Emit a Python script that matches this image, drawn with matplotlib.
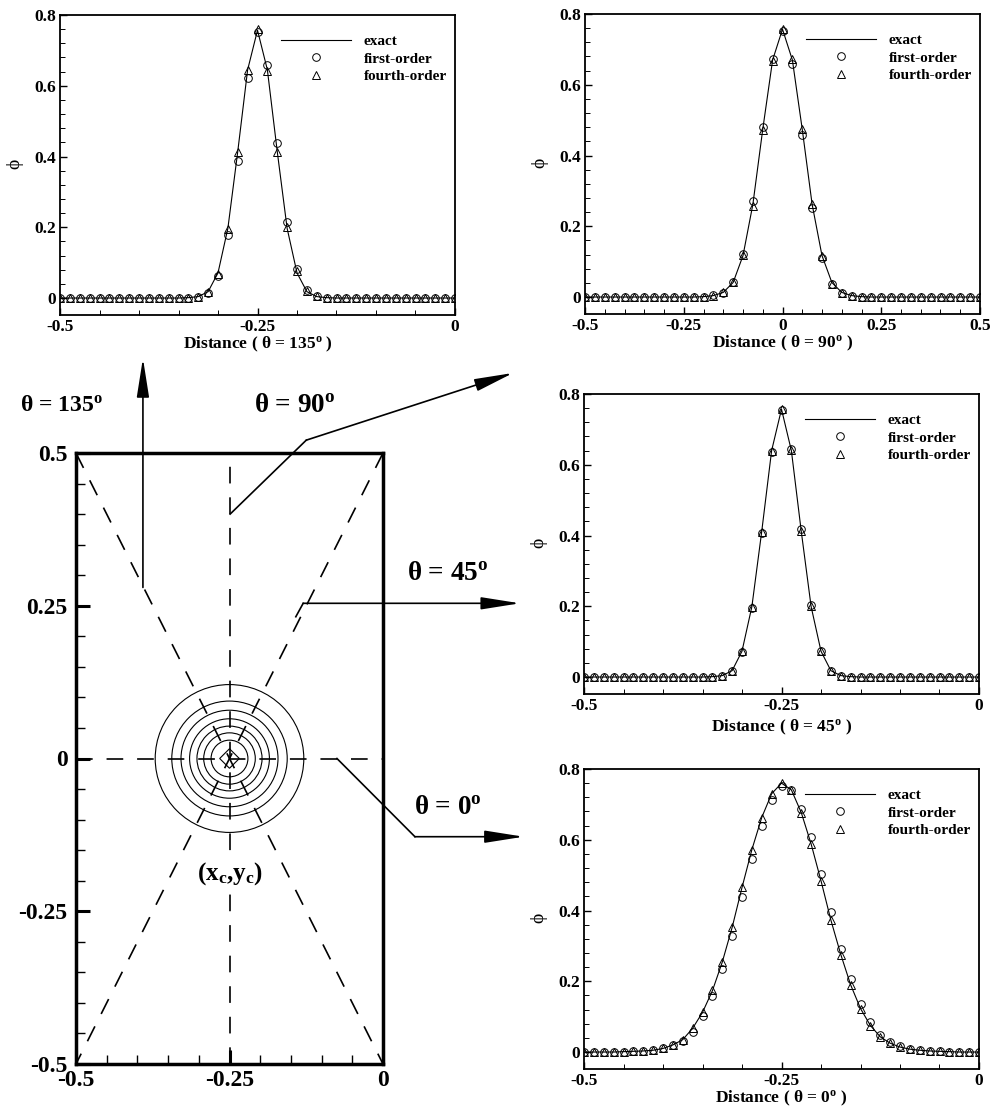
import numpy as np
import matplotlib
matplotlib.use("Agg")
import matplotlib.pyplot as plt
from matplotlib.patches import Circle, RegularPolygon
from matplotlib.ticker import FixedLocator

plt.rcParams['font.family'] = ['Liberation Serif', 'DejaVu Serif']
plt.rcParams['font.weight'] = 'bold'
plt.rcParams['mathtext.fontset'] = 'custom'
plt.rcParams['mathtext.rm'] = 'Liberation Serif:bold'
plt.rcParams['mathtext.it'] = 'Liberation Serif:italic:bold'
plt.rcParams['mathtext.bf'] = 'Liberation Serif:bold'
plt.rcParams['lines.scale_dashes'] = False

# ---------------------------------------------------------------- data
# sampling positions along each cut
dist_short = np.linspace(-0.5, 0.0, 41)   # theta = 0, 45, 135
dist_long = np.linspace(-0.5, 0.5, 41)    # theta = 90

# theta = 135 deg
exact_135 = [0.000, 0.000, 0.000, 0.000, 0.000, 0.000, 0.000, 0.000, 0.000, 0.000,
             0.000, 0.000, 0.000, 0.001, 0.004, 0.018, 0.071, 0.197, 0.414, 0.645,
             0.757, 0.645, 0.414, 0.197, 0.071, 0.018, 0.004, 0.001, 0.000, 0.000,
             0.000, 0.000, 0.000, 0.000, 0.000, 0.000, 0.000, 0.000, 0.000, 0.000, 0.000]
first_135 = [0.000, 0.000, 0.000, 0.000, 0.000, 0.000, 0.000, 0.000, 0.000, 0.000,
             0.000, 0.000, 0.000, 0.001, 0.003, 0.014, 0.063, 0.179, 0.386, 0.621,
             0.753, 0.659, 0.438, 0.216, 0.082, 0.022, 0.007, 0.001, 0.000, 0.000,
             0.000, 0.000, 0.000, 0.000, 0.000, 0.000, 0.000, 0.000, 0.000, 0.000, 0.000]
fourth_135 = [0.000, 0.000, 0.000, 0.000, 0.000, 0.000, 0.000, 0.000, 0.000, 0.000,
              0.000, 0.000, 0.000, 0.001, 0.004, 0.017, 0.069, 0.195, 0.414, 0.645,
              0.760, 0.643, 0.414, 0.200, 0.075, 0.021, 0.005, 0.001, 0.000, 0.000,
              0.000, 0.000, 0.000, 0.000, 0.000, 0.000, 0.000, 0.000, 0.000, 0.000, 0.000]

# theta = 90 deg
exact_90 = [0.000, 0.000, 0.000, 0.000, 0.000, 0.000, 0.000, 0.000, 0.000, 0.000,
            0.000, 0.000, 0.001, 0.004, 0.013, 0.041, 0.117, 0.262, 0.474, 0.670,
            0.757, 0.670, 0.474, 0.262, 0.117, 0.041, 0.013, 0.004, 0.001, 0.000,
            0.000, 0.000, 0.000, 0.000, 0.000, 0.000, 0.000, 0.000, 0.000, 0.000, 0.000]
first_90 = [0.000, 0.000, 0.000, 0.000, 0.000, 0.000, 0.000, 0.000, 0.000, 0.000,
            0.000, 0.000, 0.001, 0.005, 0.012, 0.042, 0.123, 0.272, 0.481, 0.672,
            0.753, 0.658, 0.459, 0.253, 0.111, 0.036, 0.011, 0.004, 0.001, 0.000,
            0.000, 0.000, 0.000, 0.000, 0.000, 0.000, 0.000, 0.000, 0.000, 0.000, 0.000]
fourth_90 = [0.000, 0.000, 0.000, 0.000, 0.000, 0.000, 0.000, 0.000, 0.000, 0.000,
             0.000, 0.000, 0.001, 0.004, 0.013, 0.042, 0.118, 0.258, 0.472, 0.668,
             0.757, 0.672, 0.476, 0.262, 0.115, 0.038, 0.012, 0.004, 0.001, 0.000,
             0.000, 0.000, 0.000, 0.000, 0.000, 0.000, 0.000, 0.000, 0.000, 0.000, 0.000]

# theta = 45 deg
exact_45 = [0.000, 0.000, 0.000, 0.000, 0.000, 0.000, 0.000, 0.000, 0.000, 0.000,
            0.000, 0.000, 0.000, 0.001, 0.004, 0.018, 0.073, 0.199, 0.412, 0.640,
            0.757, 0.640, 0.412, 0.199, 0.073, 0.018, 0.004, 0.001, 0.000, 0.000,
            0.000, 0.000, 0.000, 0.000, 0.000, 0.000, 0.000, 0.000, 0.000, 0.000, 0.000]
first_45 = [0.000, 0.000, 0.000, 0.000, 0.000, 0.000, 0.000, 0.000, 0.000, 0.000,
            0.000, 0.000, 0.000, 0.001, 0.004, 0.017, 0.071, 0.195, 0.408, 0.636,
            0.755, 0.645, 0.417, 0.203, 0.074, 0.017, 0.004, 0.001, 0.000, 0.000,
            0.000, 0.000, 0.000, 0.000, 0.000, 0.000, 0.000, 0.000, 0.000, 0.000, 0.000]
fourth_45 = [0.000, 0.000, 0.000, 0.000, 0.000, 0.000, 0.000, 0.000, 0.000, 0.000,
             0.000, 0.000, 0.000, 0.001, 0.004, 0.018, 0.073, 0.198, 0.411, 0.640,
             0.757, 0.643, 0.414, 0.201, 0.073, 0.018, 0.004, 0.001, 0.000, 0.000,
             0.000, 0.000, 0.000, 0.000, 0.000, 0.000, 0.000, 0.000, 0.000, 0.000, 0.000]

# theta = 0 deg
exact_0 = [0.000, 0.000, 0.000, 0.000, 0.001, 0.002, 0.003, 0.005, 0.010, 0.020,
           0.035, 0.067, 0.112, 0.173, 0.254, 0.352, 0.465, 0.572, 0.663, 0.730,
           0.760, 0.741, 0.677, 0.588, 0.484, 0.373, 0.276, 0.190, 0.123, 0.075,
           0.043, 0.025, 0.014, 0.008, 0.005, 0.003, 0.002, 0.001, 0.000, 0.000, 0.000]
first_0 = [0.000, 0.000, 0.000, 0.000, 0.001, 0.002, 0.003, 0.005, 0.010, 0.019,
           0.032, 0.058, 0.101, 0.157, 0.235, 0.327, 0.437, 0.546, 0.640, 0.712,
           0.753, 0.740, 0.687, 0.607, 0.504, 0.395, 0.291, 0.205, 0.136, 0.084,
           0.048, 0.028, 0.016, 0.008, 0.005, 0.003, 0.002, 0.001, 0.000, 0.000, 0.000]
fourth_0 = [0.000, 0.000, 0.000, 0.000, 0.001, 0.002, 0.003, 0.005, 0.010, 0.020,
            0.035, 0.068, 0.113, 0.174, 0.254, 0.352, 0.466, 0.572, 0.662, 0.730,
            0.761, 0.740, 0.676, 0.588, 0.484, 0.372, 0.275, 0.189, 0.122, 0.074,
            0.043, 0.025, 0.014, 0.008, 0.005, 0.003, 0.002, 0.001, 0.000, 0.000, 0.000]

series_names = ['exact', 'first-order', 'fourth-order']

phi_ticks = [0.0, 0.2, 0.4, 0.6, 0.8]
phi_ticklabels = ['0', '0.2', '0.4', '0.6', '0.8']
short_ticks = [-0.5, -0.25, 0.0]
short_ticklabels = ['-0.5', '-0.25', '0']
long_ticks = [-0.5, -0.25, 0.0, 0.25, 0.5]
long_ticklabels = ['-0.5', '-0.25', '0', '0.25', '0.5']
dom_yticks = [-0.5, -0.25, 0.0, 0.25, 0.5]
dom_yticklabels = ['-0.5', '-0.25', '0', '0.25', '0.5']

# computational domain, hill centre and contour rings of the initial hill
dom_x = (-0.5, 0.0)
dom_y = (-0.5, 0.5)
xc, yc = -0.25, 0.0
ring_radii = [0.121, 0.094, 0.079, 0.065, 0.053, 0.042, 0.030]
core_radius = 0.016

# pointer lines from each sampling cut to its profile panel (domain units)
pointer_135 = [(-0.391, 0.280), (-0.391, 0.655)]
pointer_90 = [(-0.249, 0.400), (-0.125, 0.521), (0.212, 0.631)]
pointer_45 = [(-0.142, 0.232), (-0.130, 0.254), (0.223, 0.254)]
pointer_0 = [(-0.075, 0.000), (0.052, -0.128), (0.229, -0.128)]

# ---------------------------------------------------------------- figure
W, H = 990, 1108
fig = plt.figure(figsize=(W / 100, H / 100), dpi=100)


def px_rect(left, top, right, bottom):
    return [left / W, 1 - bottom / H, (right - left) / W, (bottom - top) / H]


def profile_panel(rect, x, exact, first, fourth, xlim, xticks, xticklabels,
                  xlabel, xlabel_y):
    ax = fig.add_axes(rect)
    ax.plot(x, exact, color='k', lw=0.8, label=series_names[0])
    ax.plot(x, first, ls='none', marker='o', ms=5.5, mfc='none', mec='k',
            mew=0.7, label=series_names[1])
    ax.plot(x, fourth, ls='none', marker='^', ms=5.8, mfc='none', mec='k',
            mew=0.7, label=series_names[2])
    ax.set_xlim(*xlim)
    ax.set_ylim(-0.048, 0.8)
    ax.xaxis.set_major_locator(FixedLocator(xticks))
    ax.set_xticklabels(xticklabels)
    ax.xaxis.set_minor_locator(FixedLocator(np.arange(xlim[0], xlim[1] + 1e-9, 0.05)))
    ax.yaxis.set_major_locator(FixedLocator(phi_ticks))
    ax.set_yticklabels(phi_ticklabels)
    ax.yaxis.set_minor_locator(FixedLocator(np.arange(0.0, 0.8001, 0.04)))
    ax.tick_params(which='both', direction='in', top=False, right=False)
    ax.tick_params(which='major', length=5, width=1.0, labelsize=12.5, pad=3)
    ax.tick_params(which='minor', length=3.5, width=0.7)
    for lab in ax.get_xticklabels() + ax.get_yticklabels():
        lab.set_fontweight('bold')
    for sp in ax.spines.values():
        sp.set_linewidth(1.3)
    ax.set_xlabel(xlabel, fontsize=12.5, fontweight='bold')
    ax.xaxis.label.set_va('center')
    ax.xaxis.set_label_coords(0.5, xlabel_y)
    ax.set_ylabel('ϕ', fontsize=14, fontweight='normal')
    ax.yaxis.label.set_va('center')
    ax.yaxis.set_label_coords(-0.115, 0.505)
    ax.legend(loc='upper left', bbox_to_anchor=(0.56, 0.935), frameon=False,
              fontsize=11, handlelength=4.6, handletextpad=0.8,
              labelspacing=0.25, borderpad=0, borderaxespad=0, numpoints=1)
    return ax


profile_panel(px_rect(60, 15, 455, 315), dist_short, exact_135, first_135, fourth_135,
              (-0.5, 0.0), short_ticks, short_ticklabels,
              r'Distance ( θ = 135$^{\mathrm{o}}$ )', -0.097)
profile_panel(px_rect(585, 14, 980, 314), dist_long, exact_90, first_90, fourth_90,
              (-0.5, 0.5), long_ticks, long_ticklabels,
              r'Distance ( θ = 90$^{\mathrm{o}}$ )', -0.097)
profile_panel(px_rect(584, 394, 979, 694), dist_short, exact_45, first_45, fourth_45,
              (-0.5, 0.0), short_ticks, short_ticklabels,
              r'Distance ( θ = 45$^{\mathrm{o}}$ )', -0.112)
profile_panel(px_rect(584, 769, 979, 1069), dist_short, exact_0, first_0, fourth_0,
              (-0.5, 0.0), short_ticks, short_ticklabels,
              r'Distance ( θ = 0$^{\mathrm{o}}$ )', -0.097)

# ---------------------------------------------------------------- domain sketch
axd = fig.add_axes(px_rect(76, 453, 383, 1064))
axd.set_xlim(*dom_x)
axd.set_ylim(*dom_y)
dash = (0, (12, 10))
cut_kw = dict(color='k', lw=1.2, ls=dash)
axd.plot([xc, xc], [dom_y[0], dom_y[1]], **cut_kw)                 # 90 deg
axd.plot([dom_x[0], dom_x[1]], [yc, yc], **cut_kw)                 # 0 deg
axd.plot([dom_x[0], dom_x[1]], [dom_y[1], dom_y[0]], **cut_kw)     # 135 deg
axd.plot([dom_x[1], dom_x[0]], [dom_y[1], dom_y[0]], **cut_kw)     # 45 deg

for r in ring_radii:
    axd.add_patch(Circle((xc, yc), r, fill=False, ec='k', lw=0.8))
axd.add_patch(RegularPolygon((xc, yc), 4, radius=core_radius, orientation=0,
                             fill=False, ec='k', lw=0.8))

axd.text(xc, -0.189, r'(x$_{\mathrm{c}}$,y$_{\mathrm{c}}$)', fontsize=18,
         fontweight='bold', ha='center', va='center',
         bbox=dict(fc='white', ec='none', pad=1))

arrow_style = '-|>,head_length=2.4,head_width=0.38'
for pts in (pointer_135, pointer_90, pointer_45, pointer_0):
    xs = [p[0] for p in pts]
    ys = [p[1] for p in pts]
    if len(pts) > 2:
        axd.plot(xs[:-1], ys[:-1], color='k', lw=1.2, clip_on=False,
                 solid_joinstyle='miter')
    axd.annotate('', xy=pts[-1], xytext=pts[-2], annotation_clip=False,
                 arrowprops=dict(arrowstyle=arrow_style, mutation_scale=10,
                                 lw=1.2, color='k', shrinkA=0, shrinkB=0))

label_kw = dict(fontweight='bold', ha='center', va='center', clip_on=False)
axd.text(-0.523, 0.578, r'θ = 135$^{\mathrm{o}}$', fontsize=17, **label_kw)
axd.text(-0.144, 0.578, r'θ = 90$^{\mathrm{o}}$', fontsize=19.5, **label_kw)
axd.text(0.105, 0.302, r'θ = 45$^{\mathrm{o}}$', fontsize=19.5, **label_kw)
axd.text(0.106, -0.080, r'θ = 0$^{\mathrm{o}}$', fontsize=19.5, **label_kw)

axd.xaxis.set_major_locator(FixedLocator(short_ticks))
axd.set_xticklabels(short_ticklabels)
axd.yaxis.set_major_locator(FixedLocator(dom_yticks))
axd.set_yticklabels(dom_yticklabels)
axd.xaxis.set_minor_locator(FixedLocator(np.arange(-0.5, 0.0001, 0.05)))
axd.yaxis.set_minor_locator(FixedLocator(np.arange(-0.5, 0.5001, 0.05)))
axd.tick_params(which='both', direction='in', top=False, right=False)
axd.tick_params(which='major', length=10, width=2.2, labelsize=17)
axd.tick_params(axis='x', which='major', pad=4)
axd.tick_params(axis='y', which='major', pad=6)
axd.tick_params(which='minor', length=6.5, width=1.0)
for lab in axd.get_xticklabels() + axd.get_yticklabels():
    lab.set_fontweight('bold')
for sp in axd.spines.values():
    sp.set_linewidth(2.5)

fig.savefig('out.png', dpi=100)
